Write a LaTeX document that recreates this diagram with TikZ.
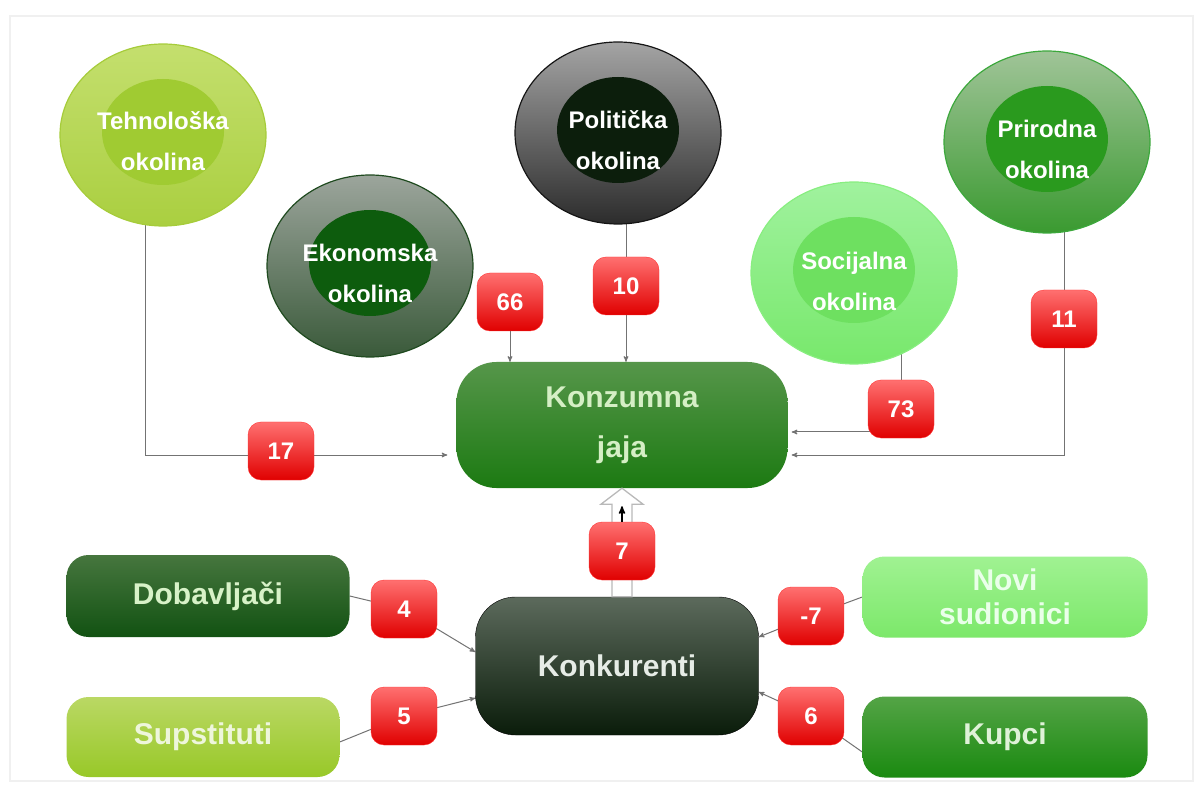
\documentclass[tikz,border=0pt]{standalone}
\usepackage{fontspec}
\setmainfont{Liberation Sans}
\usepackage{tikz}
\usetikzlibrary{arrows,shapes,positioning,backgrounds,calc}

\definecolor{techTop}{HTML}{C4DF6E}\definecolor{techBot}{HTML}{AACF40}
\definecolor{techEdge}{HTML}{A6CC3A}\definecolor{techCore}{HTML}{A0CB32}
\definecolor{ekoTop}{HTML}{9CA59C}\definecolor{ekoBot}{HTML}{3A5A3A}
\definecolor{ekoEdge}{HTML}{1F4A1F}\definecolor{ekoCore}{HTML}{0D5C0D}
\definecolor{polTop}{HTML}{A4A4A4}\definecolor{polBot}{HTML}{2C2C2C}
\definecolor{polEdge}{HTML}{151515}\definecolor{polCore}{HTML}{0C1E0C}
\definecolor{natTop}{HTML}{A0C498}\definecolor{natBot}{HTML}{3A9A30}
\definecolor{natEdge}{HTML}{3CA83C}\definecolor{natCore}{HTML}{2A9A1E}
\definecolor{socTop}{HTML}{A0F29E}\definecolor{socBot}{HTML}{78E86C}
\definecolor{socEdge}{HTML}{88EE80}\definecolor{socCore}{HTML}{6EE060}
\definecolor{badgeTop}{HTML}{FF7070}\definecolor{badgeMid}{HTML}{F80000}
\definecolor{badgeBot}{HTML}{E00000}

\tikzset{every node/.style={font=\bfseries}}
\tikzset{ring/.style={shape=ellipse, inner sep=0pt, minimum width=206pt,
    minimum height=182pt, line width=1.2pt}}
\tikzset{core/.style={path picture={\fill[#1] ([yshift=3pt]path picture
      bounding box.center) ellipse [x radius=61pt, y radius=53pt];}}}
\tikzset{circtext/.style={align=center, text=white, inner sep=0pt,
    font=\bfseries\fontsize{24}{41}\selectfont}}
\tikzset{pill/.style={shape=rectangle, rounded corners=#1, inner sep=0pt,
    align=center, font=\bfseries\fontsize{30}{50}\selectfont}}
\tikzset{badge/.style={rounded corners=13pt, minimum width=66pt,
    minimum height=58pt, inner sep=0pt, draw=red!80!white, top color=badgeTop,
    middle color=badgeMid, bottom color=badgeBot, text=white,
    font=\bfseries\fontsize{24}{26}\selectfont}}

\begin{document}
\begin{tikzpicture}[x=1pt, y=-1pt, >=stealth']
    \tikzstyle{conn}=[draw=black!55, line width=1pt]
    \useasboundingbox (0,0) rectangle (1203,794);
    % okoline
    \node[ring, draw=techEdge, top color=techTop, bottom color=techBot,
      core=techCore, label={[circtext, yshift=-6pt]center:Tehnološka\\okolina}]
      (tech) at (163,135) {};
    \node[ring, draw=ekoEdge, top color=ekoTop, bottom color=ekoBot,
      core=ekoCore, label={[circtext, yshift=-7pt]center:Ekonomska\\okolina}]
      (eko) at (370,266) {};
    \node[ring, draw=polEdge, top color=polTop, bottom color=polBot,
      core=polCore, label={[circtext, yshift=-7pt]center:Politička\\okolina}]
      (pol) at (618,133) {};
    \node[ring, draw=natEdge, top color=natTop, bottom color=natBot,
      core=natCore, label={[circtext, yshift=-7pt]center:Prirodna\\okolina}]
      (nat) at (1047,142) {};
    \node[ring, draw=socEdge, top color=socTop, bottom color=socBot,
      core=socCore, label={[circtext, yshift=-8pt]center:Socijalna\\okolina}]
      (soc) at (854,273) {};
    % glavni blokovi
    \node[pill=40pt, minimum width=331pt, minimum height=126pt,
      top color={rgb,255:red,86;green,150;blue,74}, middle color={rgb,255:red,32;green,128;blue,22},
      bottom color={rgb,255:red,28;green,122;blue,18}, text={rgb,255:red,213;green,239;blue,197}]
      (konz) at (622,425) {Konzumna\\jaja};
    \node[pill=40pt, minimum width=283pt, minimum height=138pt, draw=black,
      top color={rgb,255:red,92;green,106;blue,92}, middle color={rgb,255:red,14;green,36;blue,14},
      bottom color={rgb,255:red,10;green,28;blue,10}, text={rgb,255:red,230;green,236;blue,230}]
      (konk) at (617,666) {Konkurenti};
    \node[pill=22pt, minimum width=283pt, minimum height=82pt,
      top color={rgb,255:red,70;green,118;blue,62}, middle color={rgb,255:red,20;green,88;blue,20},
      bottom color={rgb,255:red,18;green,82;blue,18}, text={rgb,255:red,216;green,242;blue,200}]
      (dob) at (208,596) {Dobavljači};
    \node[pill=22pt, minimum width=273pt, minimum height=80pt,
      top color={rgb,255:red,186;green,216;blue,100}, middle color={rgb,255:red,158;green,204;blue,46},
      bottom color={rgb,255:red,152;green,200;blue,40}, text={rgb,255:red,238;green,246;blue,220}]
      (sup) at (203,737) {Supstituti};
    \node[pill=22pt, minimum width=285pt, minimum height=81pt,
      top color={rgb,255:red,160;green,242;blue,146}, middle color={rgb,255:red,128;green,236;blue,112},
      bottom color={rgb,255:red,124;green,232;blue,106}, text={rgb,255:red,234;green,255;blue,234},
      font=\bfseries\fontsize{30}{34}\selectfont]
      (novi) at (1005,597) {Novi\\sudionici};
    \node[pill=22pt, minimum width=285pt, minimum height=81pt,
      top color={rgb,255:red,84;green,164;blue,70}, middle color={rgb,255:red,31;green,148;blue,20},
      bottom color={rgb,255:red,26;green,138;blue,16}, text={rgb,255:red,223;green,242;blue,216}]
      (kup) at (1005,737) {Kupci};
    % sirova strelica konkurenti -> jaja
    \draw[gray!55, fill=white, line width=1.3pt] let \p1=(konz.south), \p2=(konk.north) in
      (\x1-10pt,\y2) -- (\x1-10pt,\y1-16pt) -- (\x1-21pt,\y1-16pt) -- (\p1)
      -- (\x1+21pt,\y1-16pt) -- (\x1+10pt,\y1-16pt) -- (\x1+10pt,\y2) -- cycle;
    % oznake
    \node[badge] (b17) at (281,451) {17};
    \node[badge] (b66) at (510,302) {66};
    \node[badge] (b10) at (626,286) {10};
    \node[badge] (b73) at (901,409) {73};
    \node[badge] (b11) at (1064,319) {11};
    \node[badge] (b7) at (622,551) {7};
    \node[badge] (b4) at (404,609) {4};
    \node[badge] (b5) at (404,716) {5};
    \node[badge] (bm7) at (811,616) {-7};
    \node[badge] (b6) at (811,716) {6};
    \draw[->, line width=1.6pt] (b7.north) -- ([yshift=-18pt]konz.south);
    \begin{scope}[on background layer]
      \draw[gray!12, line width=2pt] (10,16) rectangle (1193,781);
      \draw[conn, ->, shorten >=9pt] (tech.center -| 145,0) |- (konz.west |- 0,455);
      \draw[conn, ->] (b66) -- (b66 |- konz.north);
      \draw[conn] (pol.center -| b10) -- (b10);
      \draw[conn, ->] (b10) -- (b10 |- konz.north);
      \draw[conn] (soc.center -| b73) -- (b73);
      \draw[conn, ->, shorten >=4pt] (b73 |- 0,432) -- (konz.east |- 0,432);
      \draw[conn] (nat.center -| b11) -- (b11);
      \draw[conn, ->, shorten >=4pt] (b11) |- (konz.east |- 0,455);
      \draw[conn, ->] (dob.east) -- (b4.center) -- ([yshift=14pt]konk.west);
      \draw[conn, ->] ([yshift=-5pt]sup.east) -- (b5.center) -- ([yshift=-32pt]konk.west);
      \draw[conn, ->] (novi.west) -- (bm7.center) -- ([yshift=29pt]konk.east);
      \draw[conn, ->] ([yshift=-15pt]kup.west) -- (b6.center) -- ([yshift=-26pt]konk.east);
    \end{scope}
  \end{tikzpicture}
\end{document}
